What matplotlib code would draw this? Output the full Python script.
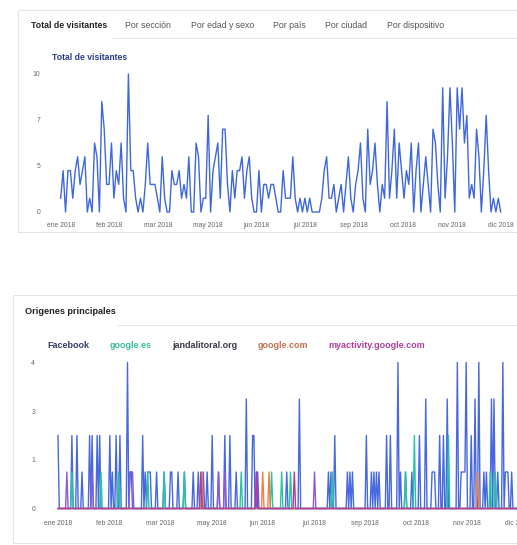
import numpy as np
import matplotlib
matplotlib.use("Agg")
import matplotlib.pyplot as plt
from matplotlib.patches import Rectangle
from matplotlib.lines import Line2D

plt.rcParams["font.family"] = ["Liberation Sans", "DejaVu Sans"]

W, H = 517, 545

tabs = ["Total de visitantes", "Por sección", "Por edad y sexo", "Por país",
        "Por ciudad", "Por dispositivo"]
month_labels = ["ene 2018", "feb 2018", "mar 2018", "may 2018", "jun 2018",
                "jul 2018", "sep 2018", "oct 2018", "nov 2018", "dic 2018"]

# total visitors, read every 2nd day of 2018
visit_days = np.arange(0, 365, 2)
visitors = [1, 3, 0, 3, 3, 1, 3, 4, 2, 3, 4, 0, 1, 0, 5,
            4, 0, 8, 6, 2, 2, 5, 1, 3, 2, 5, 1, 0, 10, 3,
            3, 1, 0, 1, 0, 2, 5, 2, 2, 2, 1, 0, 4, 1, 0,
            0, 3, 2, 2, 3, 1, 2, 1, 4, 0, 0, 5, 4, 0, 1,
            1, 7, 0, 3, 4, 5, 1, 6, 6, 2, 0, 3, 1, 3, 3,
            4, 1, 3, 4, 1, 0, 0, 3, 0, 2, 2, 1, 2, 2, 1,
            0, 0, 3, 1, 1, 1, 4, 1, 0, 1, 0, 1, 0, 1, 0,
            0, 0, 0, 1, 3, 4, 1, 1, 2, 0, 1, 2, 0, 2, 4,
            1, 0, 2, 3, 5, 1, 0, 6, 2, 3, 5, 2, 0, 2, 1, 8, 1, 3, 6, 1,
            5, 3, 1, 3, 2, 5, 0, 3, 5, 0, 2, 4, 2, 0, 6,
            5, 2, 0, 9, 1, 4, 9, 5, 0, 9, 6, 9, 5, 7, 1, 2, 1, 6, 4, 0,
            3, 7, 3, 0, 1, 0, 1, 0]

# top sources: day of year of each non-zero value
source_names = ["Facebook", "google.es", "jandalitoral.org", "google.com",
                "myactivity.google.com"]
fb_days = [0, 11, 15, 19, 25, 27, 31, 33, 41, 43, 46, 49, 55, 57, 58, 67, 69,
           71, 72, 73, 78, 84, 89, 90, 95, 100, 107, 111, 115, 118, 122, 127,
           132, 136, 141, 149, 154, 155, 158, 181, 191, 214, 216, 219, 229,
           231, 233, 244, 248, 250, 252, 254, 260, 263, 269, 271, 275, 280,
           286, 291, 296, 297, 298, 302, 305, 308, 316, 319, 320, 321, 322,
           323, 327, 330, 333, 337, 339, 343, 345, 348, 352, 354, 355, 356, 359]
fb_vals = [2, 2, 2, 1, 2, 2, 2, 2, 2, 1, 2, 2, 4, 1, 1, 2, 1, 1, 1, 1,
           1, 1, 1, 1, 1, 1, 1, 1, 1, 1, 2, 1, 2, 2, 1, 3, 2, 2, 1, 1,
           3, 1, 1, 2, 1, 1, 1, 2, 1, 1, 1, 1, 2, 2, 4, 1, 1, 1, 2, 3,
           1, 1, 1, 2, 2, 3, 4, 1, 1, 1, 1, 4, 2, 3, 4, 1, 1, 3, 3, 1,
           4, 1, 1, 1, 1]
ges_days = [11, 34, 48, 71, 84, 100, 145, 169, 177, 184, 217, 275, 282, 309, 342, 346]
ges_vals = [1, 1, 1, 1, 1, 1, 1, 1, 1, 1, 1, 1, 2, 2, 1, 1]
jand_days = [7, 27, 57, 58, 59, 127, 132, 157, 203]
jand_vals = [1, 1, 1, 1, 1, 1, 1, 1, 1]
gcom_days = [114, 162, 167, 332]
gcom_vals = [1, 1, 1, 1]
myact_days = [113, 157, 187]
myact_vals = [1, 1, 1]

line_colors = ["#4768de", "#26c4a4", "#8d5ad8", "#f08040", "#b23a9e"]
legend_colors = ["#353f6b", "#38bd9e", "#3a3a48", "#c2704f", "#ad3f9d"]


def fx(x):
    return x / W


def fy(y):
    return 1 - y / H


def daily(days, vals):
    s = np.zeros(365)
    s[days] = vals
    return s


def style_axis(ax, xpad, ypad):
    for sp in ax.spines.values():
        sp.set_visible(False)
    ax.set_xlim(0, 364)
    ax.set_xticks(np.linspace(0, 364, 10))
    ax.set_xticklabels(month_labels)
    ax.tick_params(length=0, labelsize=4.9, colors="#666666")
    ax.tick_params(axis="x", pad=xpad)
    ax.tick_params(axis="y", pad=ypad)
    ax.patch.set_alpha(0)


fig = plt.figure(figsize=(W / 100, H / 100), dpi=100)

# cards
for x0, y0, y1 in [(18, 10, 232), (13, 295, 543)]:
    fig.add_artist(Rectangle((fx(x0), fy(y1)), fx(W + 20 - x0), (y1 - y0) / H,
                             transform=fig.transFigure, fill=False,
                             edgecolor="#e4e4e4", lw=0.8))
fig.add_artist(Line2D([fx(113), 1], [fy(38), fy(38)], color="#e6e6e6", lw=0.8))
fig.add_artist(Line2D([fx(118), 1], [fy(325), fy(325)], color="#e6e6e6", lw=0.8))

# tabs
tab_x = [31, 125, 191, 273, 325, 387]
for i, (t, x) in enumerate(zip(tabs, tab_x)):
    fig.text(fx(x), fy(25), t, fontsize=6.3, va="center",
             color="#222222" if i == 0 else "#555555",
             fontweight="bold" if i == 0 else "normal")

fig.text(fx(52), fy(57), "Total de visitantes", fontsize=6.2,
         fontweight="bold", color="#2a3a8a", va="center")

ax1 = fig.add_axes([fx(60.7), fy(212), 440 / W, 138 / H])
ax1.plot(visit_days, visitors, color="#3f67dc", lw=1.0, clip_on=False)
ax1.set_ylim(0, 10)
ax1.set_yticks([0, 10 / 3, 20 / 3, 10])
ax1.set_yticklabels(["0", "5", "7", "10"])
style_axis(ax1, 7.0, 14.5)

# bottom card
fig.text(fx(25), fy(312), "Origenes principales", fontsize=6.6,
         fontweight="bold", color="#222222", va="center")
legend_x = [47, 110, 172, 258, 328]
for name, x, c in zip(source_names, legend_x, legend_colors):
    fig.text(fx(x), fy(345), name, fontsize=6.5, fontweight="bold",
             color=c, va="center")

ax2 = fig.add_axes([fx(58), fy(508.5), 460 / W, 146 / H])
series = [(fb_days, fb_vals), (ges_days, ges_vals), (jand_days, jand_vals),
          (gcom_days, gcom_vals), (myact_days, myact_vals)]
for (d, v), c in zip(series, line_colors):
    ax2.plot(np.arange(365), daily(d, v), color=c, lw=1.0, clip_on=False)
ax2.set_ylim(0, 4)
ax2.set_yticks([0, 4 / 3, 8 / 3, 4])
ax2.set_yticklabels(["0", "1", "3", "4"])
style_axis(ax2, 8.5, 16.5)

fig.savefig("out.png", dpi=100, facecolor="white")
